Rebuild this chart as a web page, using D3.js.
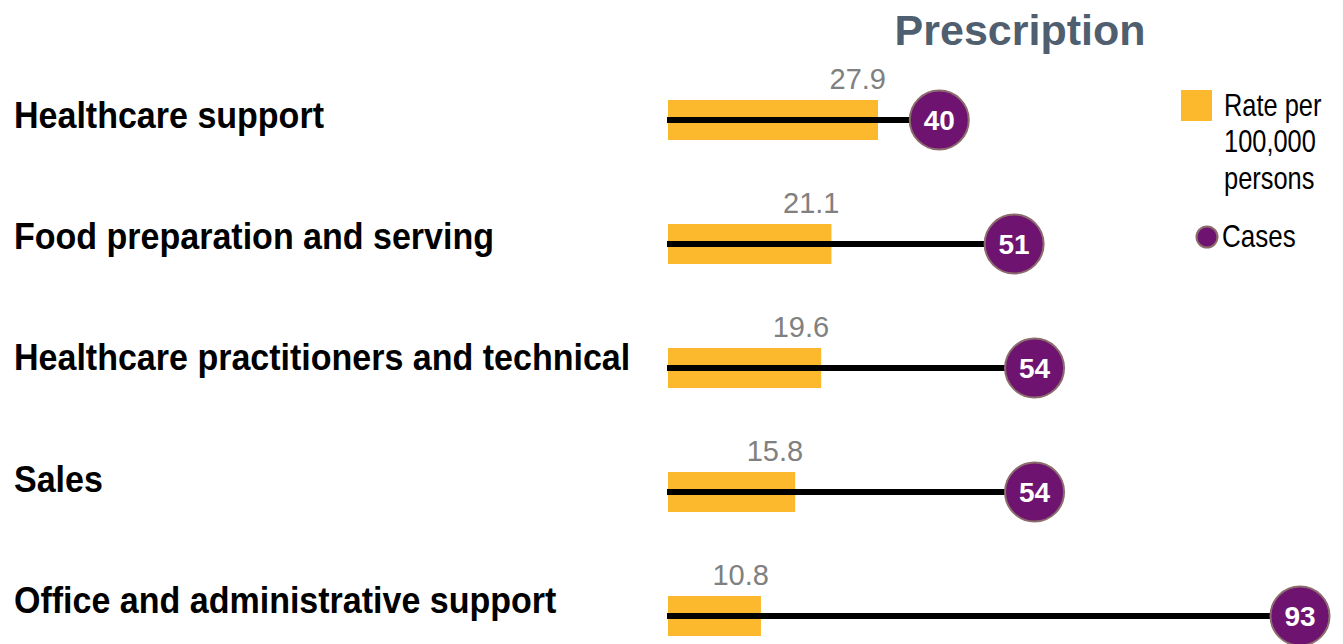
<!DOCTYPE html>
<html>
<head>
<meta charset="utf-8">
<script src="https://cdn.jsdelivr.net/npm/d3@7/dist/d3.min.js"></script>
<style>
  body { margin: 0; background: #fff; }
  svg { display: block; font-family: "Liberation Sans Narrow", "Liberation Sans", Arial, sans-serif; }
</style>
</head>
<body>
<svg class="chart" width="1343" height="644"></svg>
<script>
const categories = ["Healthcare support", "Food preparation and serving",
  "Healthcare practitioners and technical", "Sales", "Office and administrative support"]
const rates = [27.9, 21.1, 19.6, 15.8, 10.8]
const cases = [40, 51, 54, 54, 93]
const legendRate = ['Rate per', '100,000', 'persons']

const data = categories.map((c, i) => ({name: c, rate: rates[i], cases: cases[i]}))

const svg = d3.select('.chart')

// rate bars start a bit left of zero
const xRate = d3.scaleLinear().domain([-2.78, 27.9]).range([668, 878])
const xCases = d3.scaleLinear().domain([0, 93]).range([667, 1300])
const y = d3.scalePoint().domain(categories).range([120, 616])
const yLabel = d3.scalePoint().domain(categories).range([115, 600])

// no condensed font available, so squeeze text horizontally
const squeeze = 0.945

svg.append('text')
  .attr('x', 1020).attr('y', 45)
  .attr('text-anchor', 'middle')
  .attr('font-weight', 'bold')
  .attr('font-size', 43)
  .attr('fill', '#4f5f6f')
  .text('Prescription')

svg.append('g')
  .attr('transform', `translate(14,0) scale(${squeeze},1)`)
  .selectAll('.cat')
  .data(data)
  .join('text')
  .attr('class', 'cat')
  .attr('x', 0)
  .attr('y', d => yLabel(d.name))
  .attr('dy', '0.36em')
  .attr('font-weight', 'bold')
  .attr('font-size', 36)
  .attr('fill', '#000')
  .text(d => d.name)

svg.selectAll('.bar')
  .data(data)
  .join('rect')
  .attr('class', 'bar')
  .attr('x', xRate(-2.78))
  .attr('y', d => y(d.name) - 20)
  .attr('width', d => xRate(d.rate) - xRate(-2.78))
  .attr('height', 40)
  .attr('fill', '#fdb92e')

svg.selectAll('.stem')
  .data(data)
  .join('line')
  .attr('class', 'stem')
  .attr('x1', xCases(0))
  .attr('x2', d => xCases(d.cases))
  .attr('y1', d => y(d.name))
  .attr('y2', d => y(d.name))
  .attr('stroke', '#000')
  .attr('stroke-width', 6)

svg.selectAll('.rateLabel')
  .data(data)
  .join('text')
  .attr('class', 'rateLabel')
  .attr('x', d => xRate(d.rate) + 8)
  .attr('y', d => y(d.name) - 31)
  .attr('text-anchor', 'end')
  .attr('font-size', 29)
  .attr('fill', '#808080')
  .text(d => d.rate.toFixed(1))

svg.selectAll('.dot')
  .data(data)
  .join('circle')
  .attr('class', 'dot')
  .attr('cx', d => xCases(d.cases))
  .attr('cy', d => y(d.name))
  .attr('r', 29.5)
  .attr('fill', '#6e1470')
  .attr('stroke', '#8c6c6c')
  .attr('stroke-width', 2)

svg.selectAll('.caseLabel')
  .data(data)
  .join('text')
  .attr('class', 'caseLabel')
  .attr('x', d => xCases(d.cases))
  .attr('y', d => y(d.name))
  .attr('dy', '0.36em')
  .attr('text-anchor', 'middle')
  .attr('font-weight', 'bold')
  .attr('font-size', 28)
  .attr('fill', '#fff')
  .text(d => d.cases)

// legend
const legend = svg.append('g')
legend.append('rect')
  .attr('x', 1181).attr('y', 90)
  .attr('width', 31).attr('height', 31)
  .attr('fill', '#fdb92e')
legend.append('g')
  .attr('transform', 'translate(1224,0) scale(0.82,1)')
  .append('text')
  .attr('x', 0).attr('y', 116)
  .attr('font-size', 31)
  .selectAll('tspan')
  .data(legendRate)
  .join('tspan')
  .attr('x', 0)
  .attr('dy', (d, i) => i === 0 ? 0 : 36.5)
  .text(d => d)
legend.append('circle')
  .attr('cx', 1207).attr('cy', 237).attr('r', 10.5)
  .attr('fill', '#6e1470')
  .attr('stroke', '#8c6c6c')
  .attr('stroke-width', 2)
legend.append('g')
  .attr('transform', 'translate(1222,0) scale(0.84,1)')
  .append('text')
  .attr('x', 0).attr('y', 247)
  .attr('font-size', 31)
  .text('Cases')
</script>
</body>
</html>
